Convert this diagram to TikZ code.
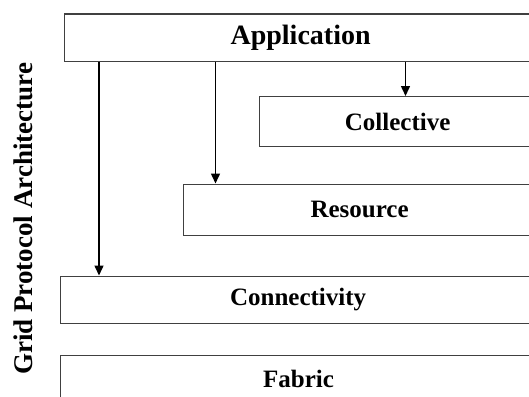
\documentclass[tikz,border=0pt]{standalone}
\usepackage{fontspec}
\setmainfont{Liberation Serif}
\usetikzlibrary{arrows.meta}
\begin{document}
\begin{tikzpicture}[x=1pt,y=-1pt,
  layer/.style={draw=black!75, line width=1.2pt, fill=white, anchor=north west,
    inner sep=0pt, font=\fontsize{25}{30}\selectfont\bfseries},
  arr/.style={draw=black, line width=1.5pt, -{Triangle[length=10pt,width=9pt]}}]
\useasboundingbox (0,0) rectangle (529,396);
\clip (0,0) rectangle (529,396);
\fill[white] (0,0) rectangle (529,396);
\node[layer, minimum width=472pt, minimum height=47pt,
  font=\fontsize{28}{32}\selectfont\bfseries] (app) at (64,13.5) {Application};
\node[layer, minimum width=276pt, minimum height=50pt] (coll) at (259,96) {Collective};
\node[layer, minimum width=352pt, minimum height=51pt] (res) at (183,183.5) {Resource};
\node[layer, minimum width=475pt, minimum height=47.5pt] (conn) at (60,275.5) {Connectivity};
\node[layer, minimum width=476pt, minimum height=46pt] (fab) at (60,355) {Fabric};
\node[rotate=90, anchor=base, font=\fontsize{27}{30}\selectfont\bfseries] (title) at (32,219) {Grid Protocol Architecture};
\coordinate (c1) at (99,0);
\coordinate (c2) at (215.5,0);
\coordinate (c3) at (405.5,0);
\draw[arr] (c1 |- app.south) -- (c1 |- conn.north);
\draw[arr] (c2 |- app.south) -- (c2 |- res.north);
\draw[arr] (c3 |- app.south) -- (c3 |- coll.north);
\end{tikzpicture}
\end{document}
